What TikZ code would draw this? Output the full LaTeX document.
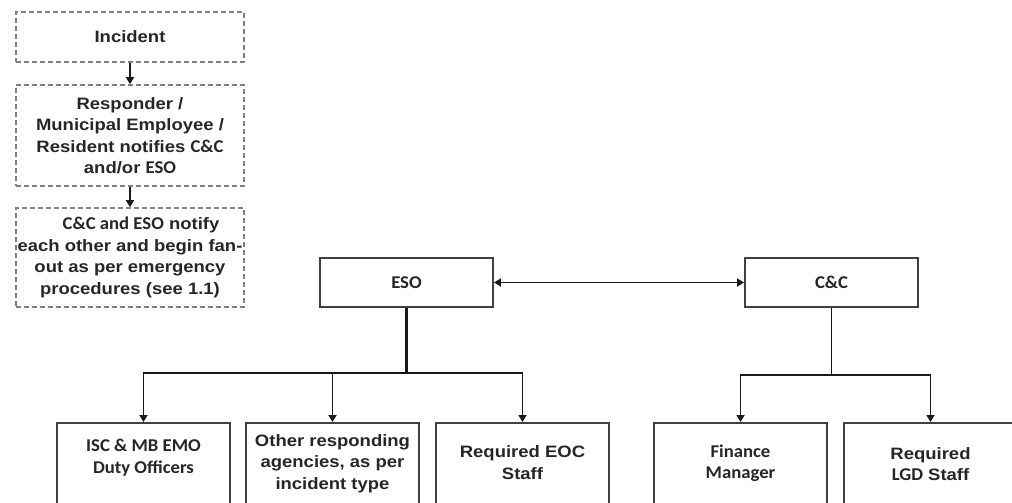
\documentclass[tikz,border=0pt]{standalone}
\usepackage{fontspec}
\usetikzlibrary{arrows.meta}
\setmainfont[FakeStretch=1.12]{Liberation Sans}
\newfontfamily\calfam[FakeStretch=1.04]{Carlito}
% Calibri-style runs inside the Arial-style text
\newcommand\cb[1]{{\calfam\bfseries\fontsize{18}{21.5}\selectfont #1}}
\definecolor{ink}{HTML}{262626}
\begin{document}
\begin{tikzpicture}[x=1pt,y=-1pt,
  every node/.style={font=\bfseries\fontsize{16.5}{21.5}\selectfont, text=ink, inner sep=0pt},
  dashbox/.style={draw=black!50, line width=1.6pt, dash pattern=on 5pt off 3pt,
                  minimum width=228pt, align=center},
  solidbox/.style={draw=black!75, line width=1.9pt, fill=white,
                   minimum width=173pt},
  conn/.style={draw=black!90, line width=1.7pt},
  trunk/.style={draw=black!90, line width=2.6pt},
  tip/.style={-{Triangle[width=8pt,length=7pt]}},
  label/.style={align=center}
]
\useasboundingbox (0,0) rectangle (1012,503);
\clip (0,0) rectangle (1012,503);

% notification sequence (dashed)
\node[dashbox, minimum height=50pt] (inc) at (130,37) {Incident};
\node[dashbox, minimum height=101pt] (resp) at (130,135.5)
  {Responder /\\Municipal Employee /\\Resident notifies \cb{C\&C}\\and/or \cb{ESO}};
\node[dashbox, minimum height=99pt] (fan) at (130,257.5)
  {\hspace*{22pt}\cb{C\&C and ESO} notify\\each other and begin fan-\\out as per emergency\\procedures (see 1.1)};
\draw[conn, tip] (inc) -- (resp);
\draw[conn, tip] (resp) -- (fan);

% top-level organisations
\node[solidbox, minimum height=49pt] (eso) at (406.5,282.5) {\cb{ESO}};
\node[solidbox, minimum height=49pt] (cc) at (831.5,282.5) {\cb{C\&C}};
\draw[conn, {Triangle[width=8pt,length=7pt]}-{Triangle[width=8pt,length=7pt]}] (eso) -- (cc);

% ESO branch boxes
\node[solidbox, anchor=north, minimum height=120pt] (isc) at (143.5,422) {};
\node[solidbox, anchor=north, minimum height=120pt] (oth) at (332.5,422) {};
\node[solidbox, anchor=north, minimum height=120pt] (eoc) at (522.5,422) {};
% C&C branch boxes
\node[solidbox, anchor=north, minimum height=120pt] (fin) at (740.5,422) {};
\node[solidbox, anchor=north, minimum height=120pt] (lgd) at (930.5,422) {};

\node[label] at ([yshift=-35.5pt]isc.north) {\cb{ISC \& MB EMO}\\\cb{Duty Officers}};
\node[label] at ([yshift=-41.5pt]oth.north) {Other responding\\agencies, as per\\incident type};
\node[label] at ([yshift=-40.5pt]eoc.north) {Required EOC\\Staff};
\node[label] at ([yshift=-41pt]fin.north) {\cb{Finance}\\\cb{Manager}};
\node[label] at ([yshift=-42pt]lgd.north) {Required\\\cb{LGD} Staff};

% fan-out connectors
\coordinate (ej) at (406.5,373);
\coordinate (cj) at (831.5,375);
\draw[trunk] (eso.south) -- (ej);
\draw[conn, tip] (ej) -| (isc.north);
\draw[conn, tip] (ej) -| (oth.north);
\draw[conn, tip] (ej) -| (eoc.north);
\draw[conn] (cc.south) -- (cj);
\draw[conn, tip] (cj) -| (fin.north);
\draw[conn, tip] (cj) -| (lgd.north);
\end{tikzpicture}
\end{document}
